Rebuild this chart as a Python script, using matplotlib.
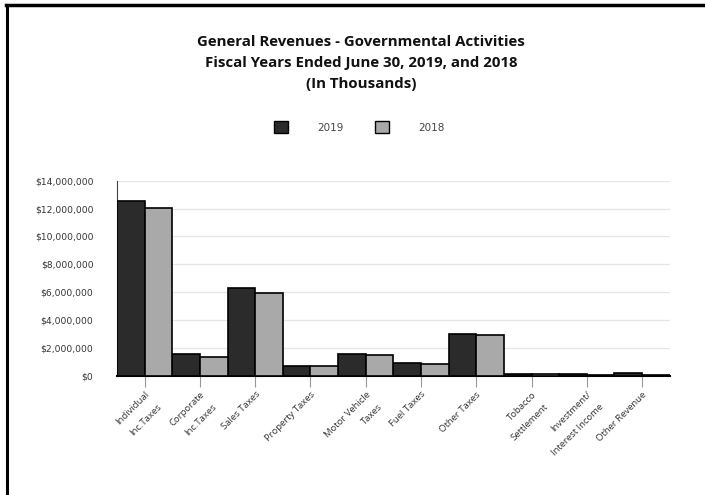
import matplotlib
matplotlib.use('Agg')
import matplotlib.pyplot as plt
import matplotlib.patches as mpatches
from matplotlib.lines import Line2D
from matplotlib.ticker import FuncFormatter, MultipleLocator
import numpy as np

# データ（千ドル単位）
categories = ['Individual\nInc.Taxes', 'Corporate\nInc.Taxes', 'Sales Taxes', 'Property Taxes',
              'Motor Vehicle\nTaxes', 'Fuel Taxes', 'Other Taxes', 'Tobacco\nSettlement',
              'Investment/\nInterest Income', 'Other Revenue']
rev_2019 = [12540000, 1550000, 6290000, 740000, 1550000, 960000, 3030000, 130000, 120000, 190000]
rev_2018 = [12070000, 1360000, 5970000, 720000, 1500000, 860000, 2920000, 125000, 40000, 50000]
years = ['2019', '2018']

fig = plt.figure(figsize=(7.05, 4.95), dpi=100)
ax = fig.add_axes([0.166, 0.2404, 0.784, 0.3946])

x = np.arange(len(categories))
w = 0.5
ax.bar(x - w / 2, rev_2019, width=w, color='#2b2b2b', edgecolor='black', linewidth=1.2, zorder=3)
ax.bar(x + w / 2, rev_2018, width=w, color='#a9a9a9', edgecolor='black', linewidth=1.2, zorder=3)

ax.set_xlim(-0.5, len(categories) - 0.5)
ax.set_ylim(0, 14000000)
ax.yaxis.set_major_locator(MultipleLocator(2000000))
ax.yaxis.set_major_formatter(FuncFormatter(lambda v, p: f'${v:,.0f}'))
ax.grid(axis='y', color='#e6e6e6', linewidth=0.9, zorder=0)

for s in ['top', 'right']:
    ax.spines[s].set_visible(False)
ax.spines['left'].set_color('#444444')
ax.spines['bottom'].set_color('black')
ax.spines['bottom'].set_linewidth(1.5)

ax.tick_params(axis='y', length=0, pad=17, labelsize=6.6, labelcolor='#333333')
ax.tick_params(axis='x', length=8, color='#999999', width=0.8, pad=2)
ax.set_xticks(x)
ax.set_xticklabels(categories, rotation=45, ha='right', rotation_mode='anchor',
                   fontsize=6.8, color='#333333', linespacing=2.2, family='Open Sans')

# タイトル
fig.text(0.512, 0.873, 'General Revenues - Governmental Activities\n'
         'Fiscal Years Ended June 30, 2019, and 2018\n(In Thousands)',
         ha='center', va='center', fontsize=10.8, fontweight='bold', family='Open Sans',
         linespacing=1.62, color='#111111')

# 凡例
handles = [mpatches.Patch(facecolor='#2b2b2b', edgecolor='black', label=years[0]),
           mpatches.Patch(facecolor='#a9a9a9', edgecolor='black', label=years[1])]
fig.legend(handles=handles, loc='center', bbox_to_anchor=(0.51, 0.743), ncol=2, frameon=False,
           fontsize=7.5, handlelength=1.35, handleheight=1.35, handletextpad=2.8,
           columnspacing=3.0, labelcolor='#444444')

# 枠線
fig.add_artist(Line2D([0.0099, 0.0099], [0.0, 0.99], color='black', linewidth=2.2))
fig.add_artist(Line2D([0.0085, 1.0], [0.99, 0.99], color='black', linewidth=2.5))

fig.savefig('out.png', dpi=100)
